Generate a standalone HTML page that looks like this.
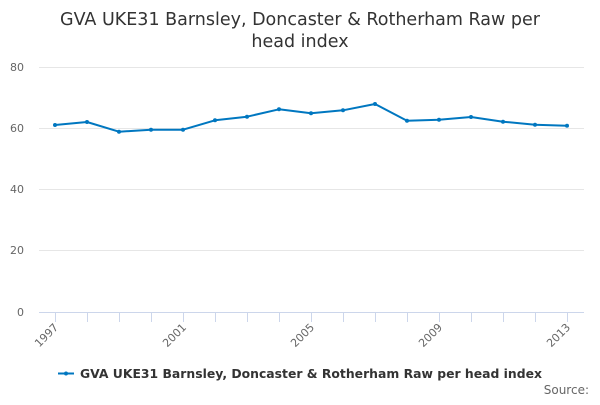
<!DOCTYPE html>
<html><head><meta charset="utf-8"><style>
body{margin:0;background:#fff;width:600px;height:400px;overflow:hidden;font-family:"Liberation Sans","DejaVu Sans",sans-serif;}
</style></head><body>
<svg width="600" height="400" xmlns="http://www.w3.org/2000/svg" font-family="DejaVu Sans, Liberation Sans, sans-serif">
<text x="300" y="25" text-anchor="middle" font-size="17.5" fill="#333">GVA UKE31 Barnsley, Doncaster &amp; Rotherham Raw per</text>
<text x="300" y="47" text-anchor="middle" font-size="17.5" fill="#333">head index</text>
<g stroke="#e6e6e6" stroke-width="1">
<line x1="39" x2="584" y1="67.5" y2="67.5"/>
<line x1="39" x2="584" y1="128.5" y2="128.5"/>
<line x1="39" x2="584" y1="189.5" y2="189.5"/>
<line x1="39" x2="584" y1="250.5" y2="250.5"/>
</g>
<line x1="39" x2="584" y1="312.5" y2="312.5" stroke="#ccd6eb"/>
<g stroke="#ccd6eb">
<line x1="55.5" x2="55.5" y1="312" y2="322"/><line x1="87.5" x2="87.5" y1="312" y2="322"/><line x1="119.5" x2="119.5" y1="312" y2="322"/><line x1="151.5" x2="151.5" y1="312" y2="322"/><line x1="183.5" x2="183.5" y1="312" y2="322"/><line x1="215.5" x2="215.5" y1="312" y2="322"/><line x1="247.5" x2="247.5" y1="312" y2="322"/><line x1="279.5" x2="279.5" y1="312" y2="322"/><line x1="311.5" x2="311.5" y1="312" y2="322"/><line x1="343.5" x2="343.5" y1="312" y2="322"/><line x1="375.5" x2="375.5" y1="312" y2="322"/><line x1="407.5" x2="407.5" y1="312" y2="322"/><line x1="439.5" x2="439.5" y1="312" y2="322"/><line x1="471.5" x2="471.5" y1="312" y2="322"/><line x1="503.5" x2="503.5" y1="312" y2="322"/><line x1="535.5" x2="535.5" y1="312" y2="322"/><line x1="567.5" x2="567.5" y1="312" y2="322"/>
</g>
<g font-size="11" fill="#666" text-anchor="end">
<text x="24" y="71">80</text><text x="24" y="132">60</text><text x="24" y="193">40</text><text x="24" y="254">20</text><text x="24" y="316">0</text>
</g>
<g font-size="11" fill="#666" text-anchor="end">
<text transform="translate(59,328) rotate(-45)">1997</text>
<text transform="translate(187,328) rotate(-45)">2001</text>
<text transform="translate(315,328) rotate(-45)">2005</text>
<text transform="translate(443,328) rotate(-45)">2009</text>
<text transform="translate(571,328) rotate(-45)">2013</text>
</g>
<polyline fill="none" stroke="#0077c0" stroke-width="2" stroke-linejoin="round" points="55,125 87,122 119,131.7 151,129.7 183,129.7 215,120.3 247,116.7 279,109.3 311,113.3 343,110.3 375,104 407,120.7 439,119.7 471,117 503,121.7 535,124.7 567,125.7"/>
<g fill="#0077c0">
<circle cx="55" cy="125" r="2"/><circle cx="87" cy="122" r="2"/><circle cx="119" cy="131.7" r="2"/><circle cx="151" cy="129.7" r="2"/><circle cx="183" cy="129.7" r="2"/><circle cx="215" cy="120.3" r="2"/><circle cx="247" cy="116.7" r="2"/><circle cx="279" cy="109.3" r="2"/><circle cx="311" cy="113.3" r="2"/><circle cx="343" cy="110.3" r="2"/><circle cx="375" cy="104" r="2"/><circle cx="407" cy="120.7" r="2"/><circle cx="439" cy="119.7" r="2"/><circle cx="471" cy="117" r="2"/><circle cx="503" cy="121.7" r="2"/><circle cx="535" cy="124.7" r="2"/><circle cx="567" cy="125.7" r="2"/>
</g>
<line x1="58" x2="74" y1="373.5" y2="373.5" stroke="#0077c0" stroke-width="2"/>
<circle cx="66" cy="373.5" r="2" fill="#0077c0"/>
<text x="80" y="378" font-size="12.5" font-weight="bold" fill="#333" textLength="462" lengthAdjust="spacingAndGlyphs">GVA UKE31 Barnsley, Doncaster &amp; Rotherham Raw per head index</text>
<text x="589" y="394" font-size="12" fill="#666" text-anchor="end">Source:</text>
</svg>
</body></html>
